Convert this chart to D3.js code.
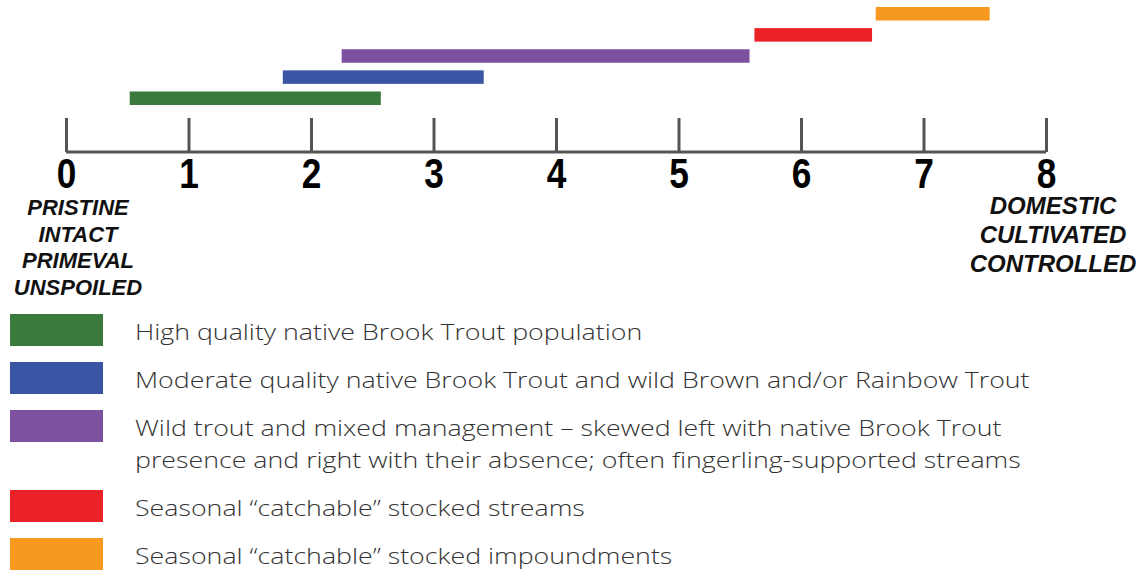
<!DOCTYPE html>
<html>
<head>
<meta charset="utf-8">
<script src="https://cdn.jsdelivr.net/npm/d3@7"></script>
<style>
  body { margin: 0; background: #fff; }
  svg { display: block; }
  .axis .domain, .axis line { stroke: #555; stroke-width: 3; }
  .axis text { font-family: "Liberation Sans Narrow", "Liberation Sans", Arial, sans-serif; font-weight: bold; font-size: 42px; fill: #000; }
  .end-label { font-family: "Liberation Sans", Arial, sans-serif; font-weight: bold; font-style: italic; fill: #111; }
  .legend text { font-family: "Open Sans", Lato, sans-serif; font-weight: 300; font-size: 22px; fill: #333; }
</style>
</head>
<body>
<div id="chart"></div>
<script>
// Scale positions 0..8, bar extents
const ticks = [0, 1, 2, 3, 4, 5, 6, 7, 8];
const categories = [
  "High quality native Brook Trout population",
  "Moderate quality native Brook Trout and wild Brown and/or Rainbow Trout",
  "Wild trout and mixed management \u2013 skewed left with native Brook Trout|presence and right with their absence; often fingerling-supported streams",
  "Seasonal \u201ccatchable\u201d stocked streams",
  "Seasonal \u201ccatchable\u201d stocked impoundments",
];
const starts = [0.52, 1.77, 2.25, 5.62, 6.61];
const ends = [2.57, 3.41, 5.58, 6.58, 7.54];
const colors = ["#3b7a3c", "#3a55a4", "#7b51a0", "#ec2229", "#f7991f"];
const leftLabels = ["PRISTINE", "INTACT", "PRIMEVAL", "UNSPOILED"];
const rightLabels = ["DOMESTIC", "CULTIVATED", "CONTROLLED"];

const width = 1136, height = 571;
const svg = d3.select("#chart").append("svg").attr("width", width).attr("height", height);

const x = d3.scaleLinear().domain([0, 8]).range([66, 1046]);
const axisY = 152;

// Bars stack upward: first band is lowest
const y = d3.scaleBand().domain(d3.range(categories.length)).range([105, 7]).paddingInner(0.36);

svg.append("g")
  .selectAll("rect")
  .data(categories)
  .join("rect")
  .attr("x", (d, i) => x(starts[i]))
  .attr("width", (d, i) => x(ends[i]) - x(starts[i]))
  .attr("y", (d, i) => y(i))
  .attr("height", y.bandwidth())
  .attr("fill", (d, i) => colors[i]);

// Axis: ticks point up from the baseline, numbers below
const axis = svg.append("g")
  .attr("class", "axis")
  .attr("transform", `translate(0,${axisY})`)
  .call(d3.axisBottom(x).tickValues(ticks).tickFormat(d3.format("d")).tickSizeInner(-34).tickSizeOuter(0).tickPadding(6));
axis.select(".domain").attr("d", `M${x(0)},0H${x(8)}`);
// condensed look for the digits (no narrow font available)
axis.selectAll(".tick text").attr("transform", "scale(0.84,1)");

// End labels under 0 and 8
svg.append("text").attr("class", "end-label").attr("text-anchor", "middle").style("font-size", "22px")
  .selectAll("tspan").data(leftLabels).join("tspan")
  .attr("x", 78).attr("y", (d, i) => 215 + i * 26.5).text(d => d);

svg.append("text").attr("class", "end-label").attr("text-anchor", "middle").style("font-size", "24px")
  .selectAll("tspan").data(rightLabels).join("tspan")
  .attr("x", 1053).attr("y", (d, i) => 214 + i * 29).text(d => d);

// Legend
const legendY = [314, 362, 410, 490, 538];
const legend = svg.append("g").attr("class", "legend");
const item = legend.selectAll("g").data(categories).join("g")
  .attr("transform", (d, i) => `translate(0,${legendY[i]})`);
item.append("rect").attr("x", 10).attr("width", 93).attr("height", 32).attr("fill", (d, i) => colors[i]);
const labels = item.append("text");
labels.selectAll("tspan").data(d => d.split("|")).join("tspan")
  .attr("x", 0).attr("y", (d, i) => 26 + i * 32).text(d => d);

// The reference face is wider; stretch glyphs so the longest line spans ~895px
const probe = labels.filter((d, i) => i === 1).node();
const k = 895 / probe.getComputedTextLength();
labels.attr("transform", `translate(135,0) scale(${k},1)`);
</script>
</body>
</html>
